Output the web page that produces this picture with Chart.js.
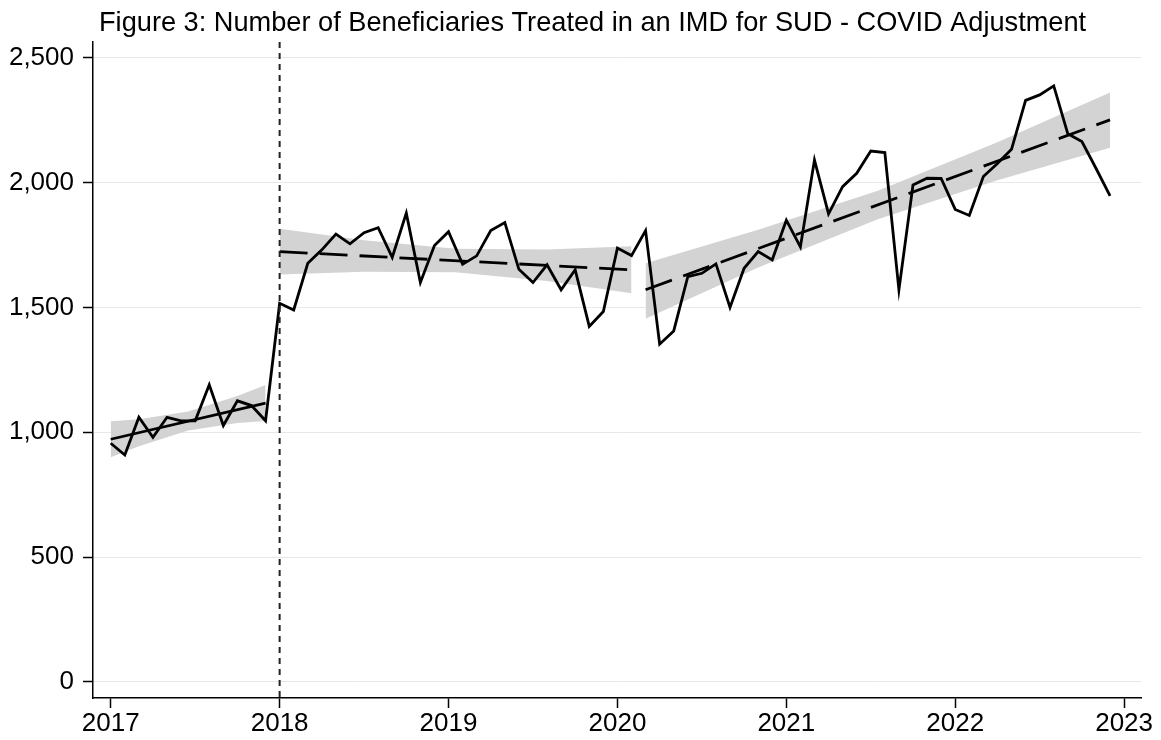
<!DOCTYPE html>
<html>
<head>
<meta charset="utf-8">
<script src="https://cdn.jsdelivr.net/npm/chart.js@4.4.1/dist/chart.umd.min.js"></script>
<style>
  html, body { margin: 0; padding: 0; background: #fff; }
  canvas { display: block; }
</style>
</head>
<body>
<canvas id="imdChart" width="1161" height="740"></canvas>
<script>
// Monthly counts, Jan 2017 .. Dec 2022
const startYear = 2017;
const beneficiaries = [
  956, 909, 1060, 980, 1060, 1046, 1046, 1190, 1027, 1126, 1107, 1046,   // 2017
  1517, 1490, 1677, 1731, 1794, 1755, 1800, 1820, 1701, 1878, 1600, 1748, // 2018
  1804, 1673, 1707, 1808, 1840, 1653, 1600, 1671, 1571, 1651, 1424, 1484, // 2019
  1738, 1708, 1808, 1353, 1406, 1624, 1637, 1675, 1500, 1657, 1724, 1691, // 2020
  1850, 1743, 2091, 1875, 1984, 2038, 2127, 2121, 1571, 1991, 2018, 2017, // 2021
  1893, 1869, 2025, 2077, 2134, 2330, 2352, 2388, 2196, 2165, 2058, 1947  // 2022
];

// fitted lines (month index, 0 = Jan 2017)
const trendPreMonths = [0, 11];
const trendPreValues = [972, 1117];
const trendMidMonths = [12, 37];
const trendMidValues = [1724, 1651];
const trendPostMonths = [38, 71];
const trendPostValues = [1571, 2252];

// confidence bands around the fits
const bandPreMonths = [0, 2, 5.5, 9, 11];
const bandPreLow = [900, 944, 1007, 1037, 1045];
const bandPreHigh = [1044, 1052, 1083, 1145, 1189];
const bandMidMonths = [12, 18, 24.5, 31, 37];
const bandMidLow = [1632, 1643, 1641, 1606, 1557];
const bandMidHigh = [1816, 1769, 1735, 1732, 1745];
const bandPostMonths = [38, 46, 54.5, 63, 71];
const bandPostLow = [1455, 1660, 1854, 2010, 2140];
const bandPostHigh = [1677, 1812, 1968, 2162, 2362];

const yTicks = [0, 500, 1000, 1500, 2000, 2500];
const xTicks = [2017, 2018, 2019, 2020, 2021, 2022, 2023];
const policyYear = 2018;
const titleText = "Figure 3: Number of Beneficiaries Treated in an IMD for SUD - COVID Adjustment";

const FONT = '"Liberation Sans", Arial, Helvetica, sans-serif';
const bandColor = "#d3d3d3";

const monthToX = (m) => startYear + m / 12;
const pts = (months, values) => months.map((m, i) => ({ x: monthToX(m), y: values[i] }));

function trendSet(months, values, dash) {
  return {
    data: pts(months, values),
    borderColor: "#000",
    borderWidth: 2.8,
    borderDash: dash,
    pointRadius: 0,
    fill: false,
  };
}

function bandSets(months, low, high) {
  return [
    { data: pts(months, low), borderWidth: 0, pointRadius: 0, fill: false },
    { data: pts(months, high), borderWidth: 0, pointRadius: 0, fill: "-1", backgroundColor: bandColor },
  ];
}

// title drawn by hand so it sits where the original has it
const titlePlugin = {
  id: "figTitle",
  afterDraw(chart) {
    const ctx = chart.ctx;
    ctx.save();
    ctx.font = "27.2px " + FONT;
    ctx.fillStyle = "#000";
    ctx.textBaseline = "alphabetic";
    ctx.textAlign = "left";
    ctx.fillText(titleText, 99, 31);
    ctx.restore();
  },
};

// dashed vertical marker at the policy start
const policyLine = {
  id: "policyLine",
  afterDatasetsDraw(chart) {
    const { ctx, chartArea } = chart;
    const x = chart.scales.x.getPixelForValue(policyYear);
    ctx.save();
    ctx.strokeStyle = "#222";
    ctx.lineWidth = 2;
    ctx.setLineDash([6, 5]);
    ctx.beginPath();
    ctx.moveTo(x, chartArea.top);
    ctx.lineTo(x, chartArea.bottom);
    ctx.stroke();
    ctx.restore();
  },
};

new Chart(document.getElementById("imdChart"), {
  type: "line",
  data: {
    datasets: [
      {
        data: beneficiaries.map((v, i) => ({ x: monthToX(i), y: v })),
        borderColor: "#000",
        borderWidth: 2.8,
        pointRadius: 0,
        fill: false,
      },
      trendSet(trendPreMonths, trendPreValues, []),
      trendSet(trendMidMonths, trendMidValues, [28, 12]),
      trendSet(trendPostMonths, trendPostValues, [28, 12]),
      ...bandSets(bandPreMonths, bandPreLow, bandPreHigh),
      ...bandSets(bandMidMonths, bandMidLow, bandMidHigh),
      ...bandSets(bandPostMonths, bandPostLow, bandPostHigh),
    ],
  },
  options: {
    responsive: false,
    animation: false,
    layout: { padding: { top: 42, right: 20, left: 0, bottom: 0 } },
    plugins: {
      legend: { display: false },
      tooltip: { enabled: false },
      filler: { drawTime: "beforeDatasetsDraw" },
    },
    scales: {
      x: {
        type: "linear",
        min: 2016.895,
        max: 2023.1,
        afterFit: (s) => { s.height = 42; },
        afterBuildTicks: (s) => { s.ticks = xTicks.map((v) => ({ value: v })); },
        border: { display: true, color: "#000", width: 1.5 },
        grid: { drawOnChartArea: false, tickLength: 10, tickColor: "#000", tickWidth: 1.5 },
        ticks: {
          color: "#000",
          padding: 0,
          font: { family: FONT, size: 26 },
          callback: (v) => String(v),
          maxRotation: 0,
        },
      },
      y: {
        type: "linear",
        min: -65,
        max: 2564,
        afterFit: (s) => { s.width = 93; },
        afterBuildTicks: (s) => { s.ticks = yTicks.map((v) => ({ value: v })); },
        border: { display: true, color: "#000", width: 1.5 },
        grid: { color: "#e8e8e8", lineWidth: 1, tickLength: 10, tickColor: "#000", tickWidth: 1.5 },
        ticks: {
          color: "#000",
          padding: 9,
          font: { family: FONT, size: 26 },
          callback: (v) => v.toLocaleString("en-US"),
        },
      },
    },
  },
  plugins: [titlePlugin, policyLine],
});
</script>
</body>
</html>
